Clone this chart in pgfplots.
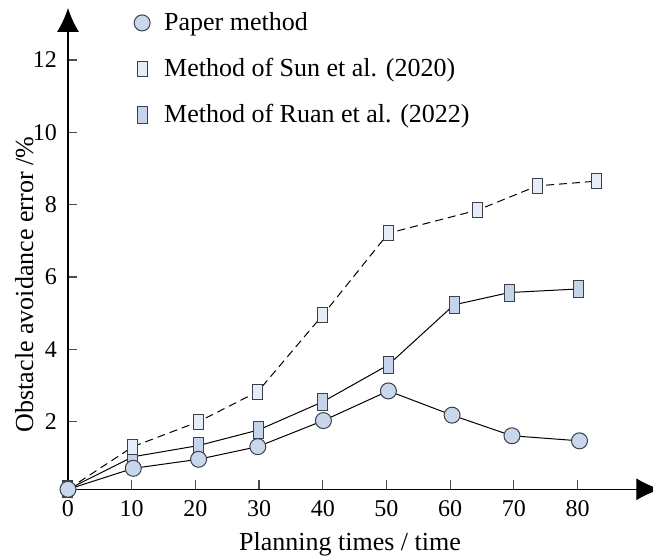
\documentclass[border=0pt]{standalone}
\usepackage{fontspec}
\setmainfont{Liberation Serif}
\usepackage{pgfplots}
\pgfplotsset{compat=1.18}
\usetikzlibrary{arrows.meta}
\definecolor{fillA}{HTML}{C8D7EC}
\definecolor{fillB}{HTML}{E5EDF8}
\definecolor{fillC}{HTML}{C4D4EB}
\definecolor{edge}{HTML}{3A3F48}
% upright rectangles, as in the original figure
\pgfdeclareplotmark{rectS}{\pgfpathrectangle{\pgfpoint{-2.5pt}{-3.75pt}}{\pgfpoint{5pt}{7.5pt}}\pgfusepathqfillstroke}
\pgfdeclareplotmark{rectR}{\pgfpathrectangle{\pgfpoint{-2.5pt}{-4.25pt}}{\pgfpoint{5pt}{8.5pt}}\pgfusepathqfillstroke}

\begin{document}
\begin{tikzpicture}
\begin{axis}[
  scale only axis, width=296.2pt, height=240.7pt,
  xmin=0, xmax=93, ymin=0.13, ymax=13.44,
  axis lines=left,
  axis line style={line width=0.6pt, -{Latex[length=12pt,width=11pt]}},
  xtick={0,10,...,80}, ytick={2,4,...,12},
  tick align=inside, major tick length=4.5pt,
  tick style={gray!60!black, line width=0.6pt},
  tick label style={font=\fontsize{12}{14}\selectfont, /pgf/number format/assume math mode=true},
  x tick label style={yshift=-2pt},
  y tick label style={xshift=-2pt},
  xlabel={Planning times / time},
  ylabel={Obstacle avoidance error /\%},
  label style={font=\fontsize{13}{15}\selectfont},
  xlabel style={at={(axis description cs:0.476,-0.1261)}, anchor=base},
  ylabel style={at={(axis description cs:-0.059,0.4254)}, anchor=base},
  legend style={at={(axis description cs:0.111,0.9998)}, anchor=north west,
    draw=none, fill=none, inner sep=0pt, row sep=8.35pt,
    font=\fontsize{13}{15}\selectfont,
    /tikz/every odd column/.append style={column sep=5pt}},
  legend cell align=left,
  reverse legend,
  legend image code/.code={\draw[#1, only marks] plot coordinates {(0pt,0pt)};},
  clip=false,
]
% drawn first so the circles sit on top
\addplot[black, line width=0.5pt, mark=rectR,
  mark options={fill=fillC, draw=edge, solid, line width=0.5pt}]
  coordinates {(0,0.13) (10.2,1.03) (20.5,1.34) (29.9,1.77) (40.0,2.55)
               (50.3,3.57) (60.6,5.23) (69.3,5.57) (80.2,5.67)};
\addlegendentry{Method of Ruan et al. (2022)}
\addplot[black, line width=0.5pt, dash pattern=on 4pt off 2.5pt, mark=rectS,
  mark options={fill=fillB, draw=edge, solid, line width=0.5pt}]
  coordinates {(0,0.13) (10.2,1.31) (20.5,2.00) (29.8,2.83) (40.0,4.95)
               (50.3,7.21) (64.3,7.85) (73.7,8.52) (83.0,8.65)};
\addlegendentry{Method of Sun et al. (2020)}
\addplot[black, line width=0.5pt, mark=*, mark size=4pt,
  mark options={fill=fillA, draw=edge, solid, line width=0.5pt}]
  coordinates {(0,0.13) (10.25,0.71) (20.5,0.96) (29.8,1.31) (40.1,2.03)
               (50.3,2.85) (60.3,2.18) (69.7,1.61) (80.3,1.47)};
\addlegendentry{Paper method}
\coordinate (O) at (rel axis cs:0,0);
\end{axis}
\pgfresetboundingbox
\path[use as bounding box] ([shift={(-34pt,-34.35pt)}]O) rectangle ([shift={(292.5pt,244.65pt)}]O);
\end{tikzpicture}
\end{document}
